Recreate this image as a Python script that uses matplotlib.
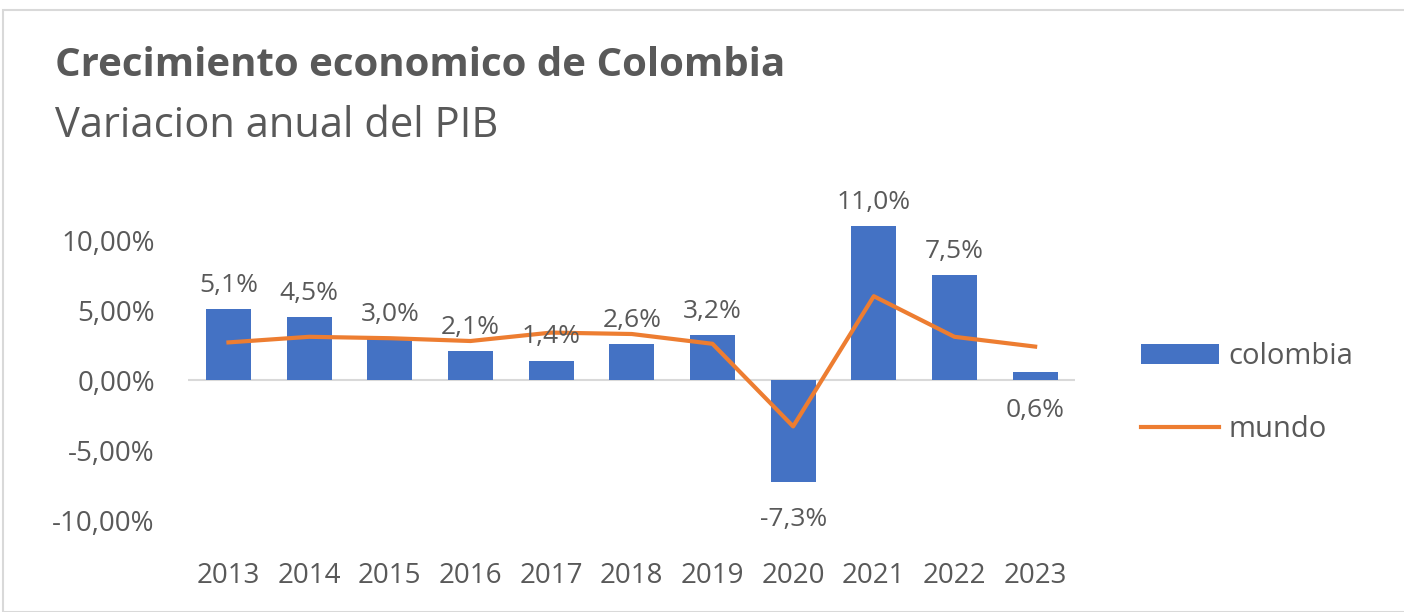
import matplotlib
matplotlib.use('Agg')
import matplotlib.pyplot as plt
from matplotlib.patches import Rectangle, Patch
from matplotlib.lines import Line2D

years = ['2013', '2014', '2015', '2016', '2017', '2018', '2019', '2020', '2021', '2022', '2023']
colombia = [5.1, 4.5, 3.0, 2.1, 1.4, 2.6, 3.2, -7.3, 11.0, 7.5, 0.6]
mundo = [2.7, 3.1, 3.0, 2.8, 3.4, 3.3, 2.6, -3.3, 6.0, 3.1, 2.4]
yticks = [-10, -5, 0, 5, 10]

blue = '#4472C4'
orange = '#ED7D31'
gray = '#595959'

plt.rcParams['font.family'] = ['Open Sans', 'DejaVu Sans']

fig = plt.figure(figsize=(14.04, 6.12), dpi=100)
fig.patches.append(Rectangle((3/1404, 0), 1.0, 1 - 10/612, transform=fig.transFigure,
                             fill=False, edgecolor='#D9D9D9', linewidth=1.5))

ax = fig.add_axes([0.134, 0.150, 0.632, 0.549])
x = list(range(len(years)))
ax.bar(x, colombia, width=0.56, color=blue, zorder=2)
ax.plot(x, mundo, color=orange, linewidth=3, zorder=3, solid_joinstyle='round')

# etiquetas de datos
for i, v in enumerate(colombia):
    lab = ('%.1f%%' % v).replace('.', ',')
    if v < 0:
        ax.annotate(lab, (i, v), xytext=(0, -18), textcoords='offset points',
                    ha='center', va='top', fontsize=19, color=gray)
    elif years[i] == '2023':
        ax.annotate(lab, (i, 0), xytext=(0, -13), textcoords='offset points',
                    ha='center', va='top', fontsize=19, color=gray)
    else:
        ax.annotate(lab, (i, v), xytext=(0, 8), textcoords='offset points',
                    ha='center', va='bottom', fontsize=19, color=gray)

ax.axhline(0, color='#D9D9D9', linewidth=1.5, zorder=1)
ax.set_xlim(-0.5, len(years) - 0.5)
ax.set_ylim(-10, 14)
ax.set_yticks(yticks)
ax.set_yticklabels([('%.2f%%' % t).replace('.', ',') for t in yticks])
ax.set_xticks(x)
ax.set_xticklabels(years)
ax.tick_params(axis='both', length=0, labelsize=20, colors=gray)
ax.tick_params(axis='y', pad=24)
ax.tick_params(axis='x', pad=30)
for s in ax.spines.values():
    s.set_visible(False)

fig.text(55/1404, 1 - 66/612, 'Crecimiento economico de Colombia', fontsize=29,
         fontweight='bold', color=gray, va='center')
fig.text(55/1404, 1 - 126/612, 'Variacion anual del PIB', fontsize=30,
         color=gray, va='center')

handles = [Patch(facecolor=blue), Line2D([0], [0], color=orange, linewidth=3)]
fig.legend(handles, ['colombia', 'mundo'], loc='center left',
           bbox_to_anchor=(1115/1404, 1 - 393/612), frameon=False, fontsize=21,
           labelcolor=gray, handlelength=2.65, handleheight=0.7, labelspacing=1.5,
           handletextpad=0.35)

fig.savefig('out.png', dpi=100)
